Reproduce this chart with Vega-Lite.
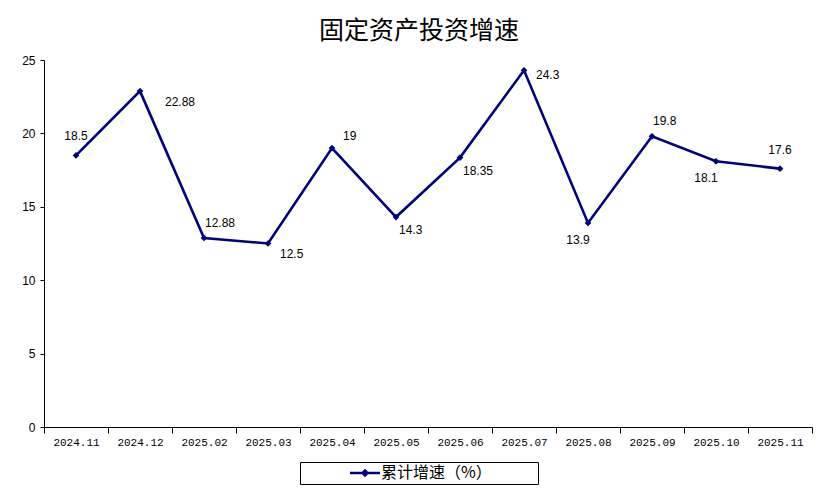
{
  "$schema": "https://vega.github.io/schema/vega-lite/v6.json",
  "autosize": "none",
  "width": 768,
  "height": 367,
  "padding": {"left": 44, "top": 60, "right": 26, "bottom": 72},
  "background": "white",
  "title": {
    "text": "固定资产投资增速",
    "font": "Noto Sans CJK SC",
    "fontSize": 25,
    "fontWeight": "normal",
    "color": "#000000",
    "anchor": "middle",
    "frame": "group",
    "dx": -9,
    "offset": 10
  },
  "data": {
    "values": [
      {"month": "2024.11", "value": 18.5, "series": "累计增速（%）"},
      {"month": "2024.12", "value": 22.88, "series": "累计增速（%）"},
      {"month": "2025.02", "value": 12.88, "series": "累计增速（%）"},
      {"month": "2025.03", "value": 12.5, "series": "累计增速（%）"},
      {"month": "2025.04", "value": 19, "series": "累计增速（%）"},
      {"month": "2025.05", "value": 14.3, "series": "累计增速（%）"},
      {"month": "2025.06", "value": 18.35, "series": "累计增速（%）"},
      {"month": "2025.07", "value": 24.3, "series": "累计增速（%）"},
      {"month": "2025.08", "value": 13.9, "series": "累计增速（%）"},
      {"month": "2025.09", "value": 19.8, "series": "累计增速（%）"},
      {"month": "2025.10", "value": 18.1, "series": "累计增速（%）"},
      {"month": "2025.11", "value": 17.6, "series": "累计增速（%）"}
    ]
  },
  "encoding": {
    "x": {
      "field": "month",
      "type": "ordinal",
      "bandPosition": 0.5,
      "scale": {"type": "band", "paddingInner": 0, "paddingOuter": 0},
      "axis": {
        "title": null,
        "labelAngle": 0,
        "labelFont": "Liberation Mono",
        "labelFontSize": 11,
        "labelColor": "#000000",
        "labelPadding": 3,
        "tickBand": "extent",
        "tickSize": 6,
        "tickColor": "#000000",
        "domainColor": "#000000",
        "grid": false
      }
    },
    "y": {
      "field": "value",
      "type": "quantitative",
      "scale": {"domain": [0, 25], "nice": false},
      "axis": {
        "title": null,
        "values": [0, 5, 10, 15, 20, 25],
        "labelFont": "Liberation Sans",
        "labelFontSize": 12,
        "labelColor": "#000000",
        "labelPadding": 5,
        "tickSize": 4,
        "tickColor": "#000000",
        "domainColor": "#000000",
        "grid": false
      }
    }
  },
  "layer": [
    {
      "mark": {"type": "line", "strokeWidth": 2.6},
      "encoding": {
        "color": {
          "field": "series",
          "type": "nominal",
          "scale": {"range": ["#000080"]},
          "legend": {
            "title": null,
            "orient": "none",
            "legendX": 256,
            "legendY": 402,
            "direction": "horizontal",
            "strokeColor": "#000000",
            "padding": 3,
            "symbolType": "M-3,0L3,0M0,-0.5L0.5,0L0,0.5L-0.5,0Z",
            "symbolSize": 100,
            "symbolStrokeWidth": 2.5,
            "symbolOffset": 54,
            "labelFont": "Noto Sans CJK SC",
            "labelFontSize": 16,
            "labelColor": "#000000",
            "labelOffset": 8,
            "labelExpr": "datum.label + '\u3000\u3000\u3000\u2009\u200b'",
            "labelLimit": 400,
            "encode": {"symbols": {"update": {"fill": {"value": "#000080"}}}}
          }
        }
      }
    },
    {
      "mark": {"type": "point", "shape": "diamond", "filled": true, "size": 45, "color": "#000080", "opacity": 1}
    },
    {
      "transform": [{"filter": {"field": "month", "oneOf": ["2024.11", "2025.11"]}}],
      "mark": {"type": "text", "font": "Liberation Sans", "fontSize": 12, "align": "center", "baseline": "middle", "dx": 0, "dy": -19, "color": "#000000"},
      "encoding": {"text": {"field": "value", "type": "quantitative"}}
    },
    {
      "transform": [{"filter": {"field": "month", "oneOf": ["2025.08", "2025.10"]}}],
      "mark": {"type": "text", "font": "Liberation Sans", "fontSize": 12, "align": "center", "baseline": "middle", "dx": -10, "dy": 17, "color": "#000000"},
      "encoding": {"text": {"field": "value", "type": "quantitative"}}
    },
    {
      "transform": [{"filter": {"field": "month", "oneOf": ["2025.02", "2025.09"]}}],
      "mark": {"type": "text", "font": "Liberation Sans", "fontSize": 12, "align": "left", "baseline": "middle", "dx": 1, "dy": -15, "color": "#000000"},
      "encoding": {"text": {"field": "value", "type": "quantitative"}}
    },
    {
      "transform": [{"filter": {"field": "month", "oneOf": ["2025.04"]}}],
      "mark": {"type": "text", "font": "Liberation Sans", "fontSize": 12, "align": "left", "baseline": "middle", "dx": 11, "dy": -12, "color": "#000000"},
      "encoding": {"text": {"field": "value", "type": "quantitative"}}
    },
    {
      "transform": [{"filter": {"field": "month", "oneOf": ["2025.05", "2025.06"]}}],
      "mark": {"type": "text", "font": "Liberation Sans", "fontSize": 12, "align": "left", "baseline": "middle", "dx": 3, "dy": 13, "color": "#000000"},
      "encoding": {"text": {"field": "value", "type": "quantitative"}}
    },
    {
      "transform": [{"filter": {"field": "month", "oneOf": ["2025.03"]}}],
      "mark": {"type": "text", "font": "Liberation Sans", "fontSize": 12, "align": "left", "baseline": "middle", "dx": 12, "dy": 10, "color": "#000000"},
      "encoding": {"text": {"field": "value", "type": "quantitative"}}
    },
    {
      "transform": [{"filter": {"field": "month", "oneOf": ["2025.07"]}}],
      "mark": {"type": "text", "font": "Liberation Sans", "fontSize": 12, "align": "left", "baseline": "middle", "dx": 12, "dy": 5, "color": "#000000"},
      "encoding": {"text": {"field": "value", "type": "quantitative"}}
    },
    {
      "transform": [{"filter": {"field": "month", "oneOf": ["2024.12"]}}],
      "mark": {"type": "text", "font": "Liberation Sans", "fontSize": 12, "align": "left", "baseline": "middle", "dx": 25, "dy": 11, "color": "#000000"},
      "encoding": {"text": {"field": "value", "type": "quantitative"}}
    }
  ],
  "config": {
    "view": {"stroke": null},
    "axis": {"domainWidth": 1, "tickWidth": 1}
  }
}
